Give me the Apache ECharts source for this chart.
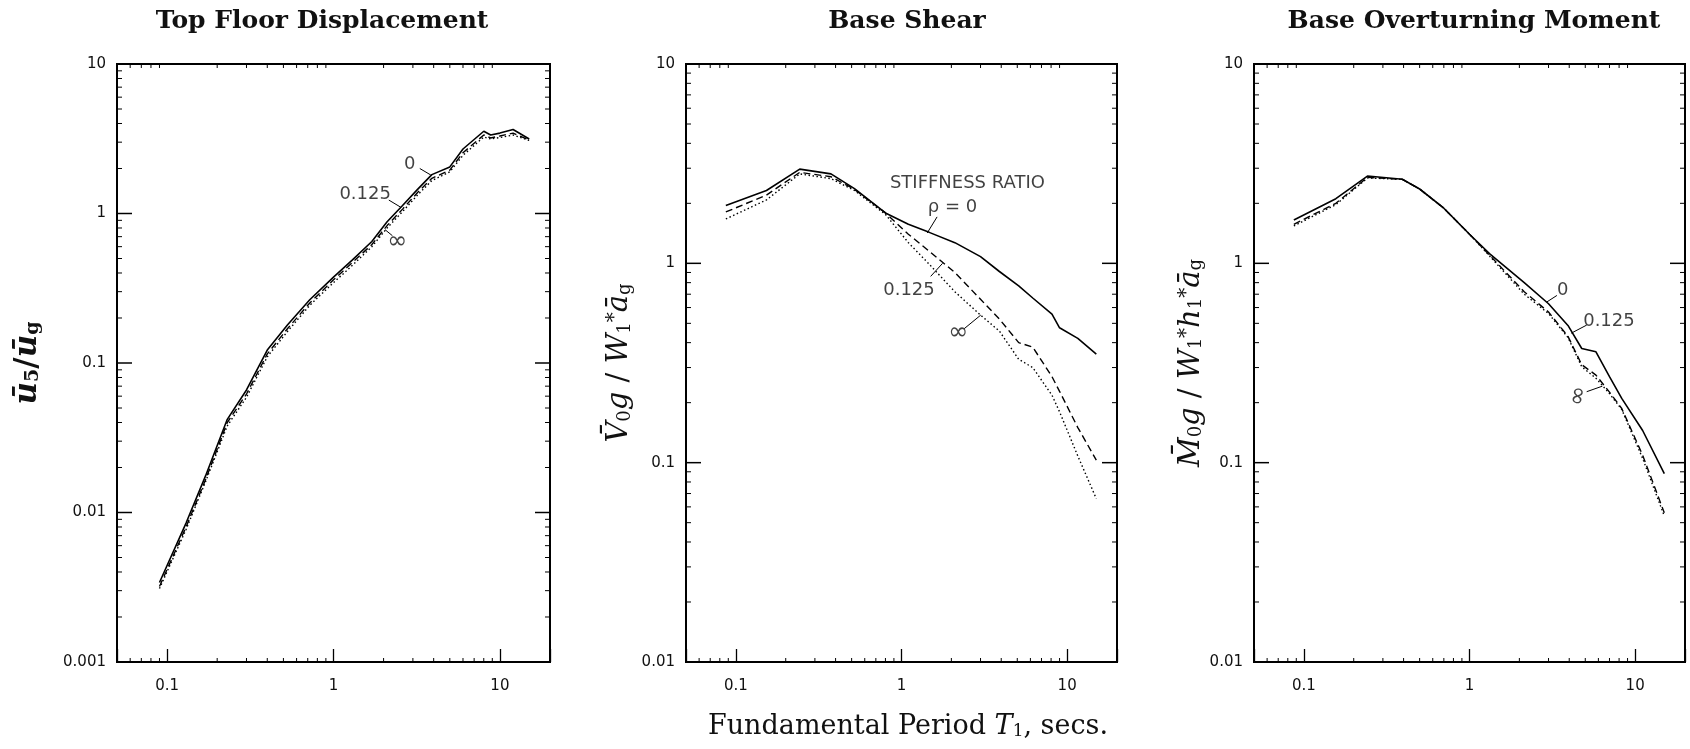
<!DOCTYPE html>
<html>
<head>
    <title>Response spectra</title>
    <meta charset="utf-8"/>
    <script type="text/javascript" src="https://cdn.jsdelivr.net/npm/echarts@6/dist/echarts.min.js"></script>
    <style>
        html, body { margin: 0; padding: 0; background: #fff; }
        #chart { width: 1690px; height: 749px; }
    </style>
</head>
<body>
<div id="chart"></div>
<script type="text/javascript">
// ---- data (period T1 in secs) ----
var periodsDisp = [0.09, 0.13, 0.17, 0.23, 0.3, 0.4, 0.53, 0.72, 1.0, 1.3, 1.7, 2.1, 2.6, 3.2, 3.9, 5.0, 6.0, 8.0, 8.8, 10, 12, 15];
var disp0   = [0.0034, 0.0085, 0.0175, 0.042, 0.066, 0.122, 0.18, 0.265, 0.375, 0.49, 0.65, 0.88, 1.13, 1.45, 1.82, 2.05, 2.7, 3.55, 3.35, 3.45, 3.65, 3.15];
var disp125 = [0.0032, 0.0080, 0.0165, 0.040, 0.062, 0.115, 0.17, 0.252, 0.36, 0.47, 0.62, 0.83, 1.07, 1.38, 1.72, 1.95, 2.55, 3.35, 3.2, 3.3, 3.45, 3.1];
var dispInf = [0.0031, 0.0077, 0.016, 0.038, 0.059, 0.11, 0.163, 0.243, 0.345, 0.45, 0.6, 0.8, 1.03, 1.33, 1.66, 1.9, 2.45, 3.25, 3.15, 3.22, 3.35, 3.08];

var periodsShear = [0.087, 0.153, 0.243, 0.375, 0.52, 0.8, 1.1, 1.47, 2.1, 3.0, 3.9, 5.1, 6.2, 8.1, 9.0, 11.6, 15];
var shear0   = [1.95, 2.32, 2.97, 2.81, 2.37, 1.79, 1.57, 1.43, 1.27, 1.08, 0.91, 0.77, 0.67, 0.556, 0.475, 0.42, 0.35];
var shear125 = [1.81, 2.2, 2.86, 2.72, 2.35, 1.79, 1.4, 1.15, 0.9, 0.66, 0.525, 0.4, 0.38, 0.27, 0.228, 0.15, 0.103];
var shearInf = [1.67, 2.08, 2.81, 2.66, 2.32, 1.76, 1.27, 0.99, 0.72, 0.55, 0.457, 0.33, 0.3, 0.218, 0.18, 0.108, 0.066];

var periodsMoment = [0.087, 0.156, 0.242, 0.393, 0.5, 0.7, 1.0, 1.32, 2.14, 3.0, 3.93, 4.76, 5.8, 7.0, 8.3, 11.1, 15];
var moment0   = [1.65, 2.11, 2.74, 2.64, 2.36, 1.89, 1.4, 1.12, 0.8, 0.627, 0.488, 0.374, 0.36, 0.27, 0.21, 0.145, 0.088];
var moment125 = [1.57, 2.0, 2.7, 2.64, 2.36, 1.89, 1.4, 1.1, 0.72, 0.57, 0.43, 0.31, 0.275, 0.226, 0.187, 0.109, 0.056];
var momentInf = [1.54, 1.97, 2.68, 2.64, 2.36, 1.89, 1.4, 1.09, 0.7, 0.56, 0.425, 0.303, 0.265, 0.222, 0.185, 0.105, 0.054];

// tick labels
var xTickLabels = ['0.1', '1', '10'];
var yTickLabelsDisp = ['0.001', '0.01', '0.1', '1', '10'];
var yTickLabelsForce = ['0.01', '0.1', '1', '10'];

// curve labels (text, anchor [T, value]) and leader lines
var labelsDisp = [['0', [2.87, 2.13]], ['0.125', [1.55, 1.35]], ['\u221E', [2.42, 0.65]]];
var leadersDisp = [[[3.3, 2.0], [3.84, 1.81]], [[2.15, 1.23], [2.54, 1.1]], [[2.26, 0.71], [2.04, 0.78]]];
var labelsShear = [['STIFFNESS RATIO', [2.5, 2.52]], ['\u03C1 = 0', [2.03, 1.92]], ['0.125', [1.11, 0.73]], ['\u221E', [2.2, 0.45]]];
var leadersShear = [[[1.64, 1.71], [1.43, 1.42]], [[1.5, 0.86], [1.77, 1.0]], [[2.39, 0.47], [3.01, 0.55]]];
var labelsMoment = [['0', [3.65, 0.73]], ['0.125', [6.95, 0.51]], ['\u221E', [4.55, 0.216]]];
var leadersMoment = [[[3.37, 0.69], [2.93, 0.64]], [[5.1, 0.49], [4.11, 0.446]], [[5.1, 0.227], [6.34, 0.242]]];

var minorMantissa = [2, 3, 4, 5, 6, 7, 8, 9];
var decades = [0.001, 0.01, 0.1, 1, 10];

var chart = echarts.init(document.getElementById('chart'));

var grids = [
    {left: 117, top: 64, width: 433, height: 598},
    {left: 686, top: 64, width: 431, height: 598},
    {left: 1254, top: 64, width: 431, height: 598}
];
var X_MIN = 0.05, X_MAX = 20;
var yRanges = [[0.001, 10], [0.01, 10], [0.01, 10]];

function zip(xs, ys) {
    return xs.map(function (x, i) { return [x, ys[i]]; });
}

function pickLabel(list) {
    return function (v) {
        for (var i = 0; i < list.length; i++) {
            if (Math.abs(Math.log10(v) - Math.log10(+list[i])) < 1e-6) return list[i];
        }
        return '';
    };
}

// minor/major tick marks on the frame, placed through the axes
function tickData(yMin, yMax) {
    var out = [];
    decades.forEach(function (d) {
        minorMantissa.forEach(function (m) {
            var v = m * d;
            if (v > X_MIN && v < X_MAX) out.push([v, yMin, 0]);
            if (v > yMin && v < yMax) out.push([X_MIN, v, 1]);
        });
        if (d > yMin && d < yMax) out.push([X_MIN, d, 2]);
    });
    return out;
}

function tickItem(params, api) {
    var cs = params.coordSys;
    var p = api.coord([api.value(0), api.value(1)]);
    var kind = api.value(2);
    var st = {stroke: '#000', lineWidth: 1};
    if (kind === 0) {
        return {type: 'group', children: [
            {type: 'line', shape: {x1: p[0], y1: cs.y + cs.height, x2: p[0], y2: cs.y + cs.height - 4}, style: st},
            {type: 'line', shape: {x1: p[0], y1: cs.y, x2: p[0], y2: cs.y + 4}, style: st}
        ]};
    }
    var len = kind === 2 ? 15 : 5;
    var w = kind === 2 ? 1.5 : 1;
    return {type: 'group', children: [
        {type: 'line', shape: {x1: cs.x, y1: p[1], x2: cs.x + len, y2: p[1]}, style: {stroke: '#000', lineWidth: w}},
        {type: 'line', shape: {x1: cs.x + cs.width, y1: p[1], x2: cs.x + cs.width - len, y2: p[1]}, style: {stroke: '#000', lineWidth: w}}
    ]};
}

var nameFont = 'DejaVu Serif';
function richSet(size, weight) {
    return {
        a: {fontFamily: nameFont, fontStyle: 'italic', fontWeight: weight, fontSize: size, color: '#111'},
        r: {fontFamily: nameFont, fontWeight: weight, fontSize: size, color: '#111'},
        s: {fontFamily: nameFont, fontWeight: weight, fontSize: Math.round(size * 0.62), verticalAlign: 'bottom', color: '#111'},
        p: {fontFamily: nameFont, fontWeight: weight, fontSize: Math.round(size * 0.7), verticalAlign: 'top', color: '#111'}
    };
}

var yNames = [
    '{a|\u016B}{s|5}{r|/}{a|\u016B}{s|g}',
    '{a|V\u0304}{s|0}{a|g}{r| / }{a|W}{s|1}{p|*}{a|\u0101}{s|g}',
    '{a|M\u0304}{s|0}{a|g}{r| / }{a|W}{s|1}{p|*}{a|h}{s|1}{p|*}{a|\u0101}{s|g}'
];
var nameGaps = [74, 52, 46];
var nameSizes = [31, 29, 29];
var nameWeights = ['bold', 'normal', 'normal'];

var xAxes = grids.map(function (g, i) {
    return {
        type: 'log', logBase: 10, gridIndex: i, min: X_MIN, max: X_MAX,
        axisLine: {show: true, lineStyle: {color: '#000', width: 2}},
        axisTick: {show: true, inside: true, length: 13, lineStyle: {color: '#000', width: 1.3}},
        axisLabel: {formatter: pickLabel(xTickLabels), margin: 17, fontFamily: 'DejaVu Sans', fontSize: 15, color: '#111'},
        splitLine: {show: false}
    };
});

var yAxes = grids.map(function (g, i) {
    return {
        type: 'log', logBase: 10, gridIndex: i, min: yRanges[i][0], max: yRanges[i][1],
        axisLine: {show: true, lineStyle: {color: '#000', width: 2}},
        axisTick: {show: false},
        axisLabel: {formatter: pickLabel(i === 0 ? yTickLabelsDisp : yTickLabelsForce), margin: 11,
            fontFamily: 'DejaVu Sans', fontSize: 15, color: '#111'},
        splitLine: {show: false},
        name: yNames[i], nameLocation: 'middle', nameGap: nameGaps[i], nameRotate: 90,
        nameTextStyle: {rich: richSet(nameSizes[i], nameWeights[i])}
    };
});

function curve(i, xs, ys, kind) {
    var ls = {color: '#000', width: 1.6, type: 'solid'};
    if (kind === 'dash') { ls.type = [7, 4]; ls.width = 1.4; }
    if (kind === 'dot') { ls.type = [1.5, 2.5]; ls.width = 1.4; }
    return {
        type: 'line', xAxisIndex: i, yAxisIndex: i, data: zip(xs, ys),
        symbol: 'none', lineStyle: ls, silent: true, z: 3
    };
}

function leaderSeries(i, segs) {
    return {
        type: 'lines', coordinateSystem: 'cartesian2d', xAxisIndex: i, yAxisIndex: i,
        data: segs.map(function (s) { return {coords: s}; }),
        lineStyle: {color: '#000', width: 1, opacity: 1}, symbol: 'none', silent: true, z: 4
    };
}

function labelSeries(i, labels, rot) {
    return {
        type: 'scatter', xAxisIndex: i, yAxisIndex: i, symbolSize: 1,
        itemStyle: {color: 'rgba(0,0,0,0)'}, silent: true, z: 5,
        data: labels.map(function (l) {
            var item = {name: l[0], value: l[1]};
            if (l[0] === '\u221E') {
                item.label = {fontSize: 24};
                if (rot) item.label.rotate = 80;
            }
            return item;
        }),
        label: {show: true, position: 'inside', formatter: '{b}', color: '#111',
            fontFamily: 'DejaVu Sans', fontSize: 18}
    };
}

function tickSeries(i) {
    return {
        type: 'custom', xAxisIndex: i, yAxisIndex: i, silent: true, z: 2,
        data: tickData(yRanges[i][0], yRanges[i][1]),
        encode: {x: 0, y: 1}, renderItem: tickItem
    };
}

var series = [
    tickSeries(0), tickSeries(1), tickSeries(2),
    curve(0, periodsDisp, disp0, 'solid'),
    curve(0, periodsDisp, disp125, 'dash'),
    curve(0, periodsDisp, dispInf, 'dot'),
    curve(1, periodsShear, shear0, 'solid'),
    curve(1, periodsShear, shear125, 'dash'),
    curve(1, periodsShear, shearInf, 'dot'),
    curve(2, periodsMoment, moment0, 'solid'),
    curve(2, periodsMoment, moment125, 'dash'),
    curve(2, periodsMoment, momentInf, 'dot'),
    leaderSeries(0, leadersDisp), leaderSeries(1, leadersShear), leaderSeries(2, leadersMoment),
    labelSeries(0, labelsDisp), labelSeries(1, labelsShear), labelSeries(2, labelsMoment, true)
];

var titleStyle = {font: 'bold 25px "DejaVu Serif"', fill: '#111', textAlign: 'center', textVerticalAlign: 'middle'};
function titleText(x, txt) {
    return {type: 'text', x: x, y: 21, style: Object.assign({text: txt}, titleStyle)};
}

var option = {
    backgroundColor: '#fff',
    animation: false,
    grid: grids.map(function (g) {
        return Object.assign({show: true, borderColor: '#000', borderWidth: 2, backgroundColor: 'transparent'}, g);
    }),
    xAxis: xAxes,
    yAxis: yAxes,
    series: series,
    graphic: [
        titleText(322, 'Top Floor Displacement'),
        titleText(907, 'Base Shear'),
        titleText(1474, 'Base Overturning Moment'),
        {
            type: 'text', x: 908, y: 727,
            style: {
                text: '{r|Fundamental Period }{a|T}{s|1}{r|, secs.}',
                textAlign: 'center', textVerticalAlign: 'middle',
                rich: {
                    r: {fontFamily: nameFont, fontSize: 27, fill: '#111'},
                    a: {fontFamily: nameFont, fontStyle: 'italic', fontSize: 27, fill: '#111'},
                    s: {fontFamily: nameFont, fontSize: 17, verticalAlign: 'bottom', fill: '#111'}
                }
            }
        }
    ]
};

chart.setOption(option);
</script>
</body>
</html>
